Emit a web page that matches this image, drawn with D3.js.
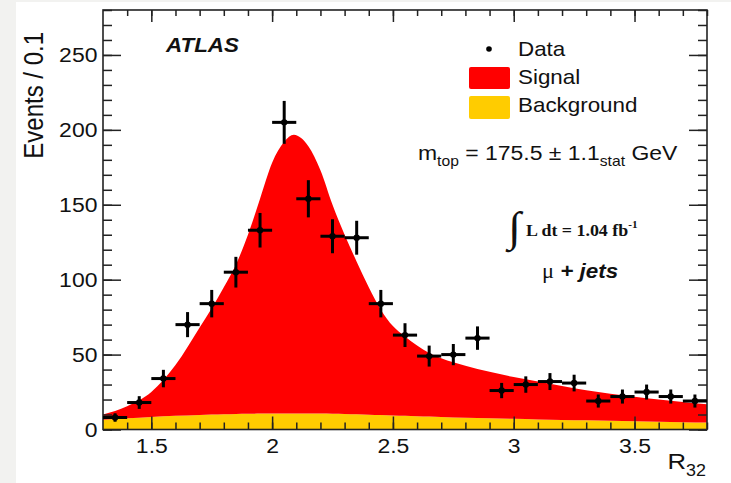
<!DOCTYPE html>
<html>
<head>
<meta charset="utf-8">
<script src="https://cdn.jsdelivr.net/npm/d3@7"></script>
<style>
  html, body { margin: 0; padding: 0; background: #f2f2f0; }
  svg { display: block; }
</style>
</head>
<body>
<svg id="chart" width="731" height="483"></svg>
<script>
// Measured R32 distribution: bin centres (width 0.1) and event counts
const binCenters = [1.35, 1.45, 1.55, 1.65, 1.75, 1.85, 1.95, 2.05, 2.15, 2.25,
                    2.35, 2.45, 2.55, 2.65, 2.75, 2.85, 2.95, 3.05, 3.15, 3.25,
                    3.35, 3.45, 3.55, 3.65, 3.75];
const dataCounts = [8, 18, 34, 70, 84, 105, 133, 205, 154, 129,
                    128, 84, 63, 49, 50, 61, 26, 30, 32, 31,
                    19, 22, 25, 22, 19];

// Fitted template curves, sampled along R32
const fitR = [1.30, 1.40, 1.50, 1.60, 1.70, 1.75, 1.80, 1.85, 1.90, 1.95,
              2.00, 2.05, 2.09, 2.12, 2.15, 2.20, 2.25, 2.30, 2.35, 2.40,
              2.45, 2.50, 2.55, 2.60, 2.65, 2.70, 2.80, 2.90, 3.00, 3.10,
              3.20, 3.30, 3.40, 3.50, 3.60, 3.70, 3.80];
const backgroundFit = [6.5, 7.5, 8.4, 9.1, 9.7, 10.0, 10.2, 10.4, 10.5, 10.6,
                       10.7, 10.7, 10.7, 10.7, 10.65, 10.6, 10.45, 10.3, 10.1, 9.9,
                       9.65, 9.4, 9.15, 8.9, 8.65, 8.4, 7.9, 7.5, 7.1, 6.75,
                       6.4, 6.1, 5.8, 5.5, 5.2, 4.9, 4.6];
const signalFit = [3.5, 8.0, 16.6, 33.9, 58.3, 71.0, 84.8, 99.6, 119.5, 143.4,
                   167.3, 181.3, 186.0, 183.8, 178.35, 162.4, 139.55, 119.7, 101.9, 85.1,
                   70.35, 59.6, 52.85, 47.1, 42.35, 39.1, 34.6, 31.0, 27.9, 25.25,
                   22.6, 20.1, 18.0, 16.3, 14.8, 13.4, 12.2];

// Axis ticks
const xMajorTicks = [1.5, 2, 2.5, 3, 3.5];
const yMajorTicks = [0, 50, 100, 150, 200, 250];
const xDomain = [1.3, 3.8];
const yDomain = [0, 280];

const SX = 1.12; // horizontal text stretch
const SANS = "'Liberation Sans', Arial, Helvetica, sans-serif";
const SERIF = "'Liberation Serif', 'Times New Roman', serif";

const svg = d3.select("#chart");
svg.append("rect").attr("x", 16).attr("y", 2).attr("width", 715).attr("height", 481).attr("fill", "#ffffff");

const frame = {left: 103, right: 707, top: 10, bottom: 429.5};
const x = d3.scaleLinear().domain(xDomain).range([frame.left, frame.right]);
const y = d3.scaleLinear().domain(yDomain).range([frame.bottom, frame.top]);

svg.append("defs").append("clipPath").attr("id", "plotClip")
  .append("rect").attr("x", frame.left).attr("y", frame.top)
  .attr("width", frame.right - frame.left).attr("height", frame.bottom - frame.top);

// Stacked fit: background at the bottom, signal on top
const fitRows = fitR.map((r, i) => ({r, bg: backgroundFit[i], sig: signalFit[i]}));
const stacked = d3.stack().keys(["bg", "sig"])(fitRows);
const area = d3.area()
  .x((d, i) => x(fitR[i]))
  .y0(d => y(d[0]))
  .y1(d => y(d[1]))
  .curve(d3.curveMonotoneX);

const fills = {bg: "#ffcc00", sig: "#ff0000"};
const plot = svg.append("g").attr("clip-path", "url(#plotClip)");
plot.selectAll("path.fit").data(stacked).join("path")
  .attr("class", "fit")
  .attr("fill", d => fills[d.key])
  .attr("d", area);

// Axes with inward ticks on all four sides
const axisColor = "#222";
function styleAxis(g) {
  g.select(".domain").remove();
  g.selectAll("line").attr("stroke", axisColor).attr("stroke-width", 1.5);
}
const xMinor = d3.range(14, 39).map(v => v / 10);
const yMinor = d3.range(0, 281, 10);

// bottom
svg.append("g").attr("transform", `translate(0,${frame.bottom})`)
  .call(d3.axisBottom(x).tickValues(xMinor).tickSize(-7).tickFormat(""))
  .call(styleAxis);
const xAx = svg.append("g").attr("transform", `translate(0,${frame.bottom})`)
  .call(d3.axisBottom(x).tickValues(xMajorTicks).tickSize(-13).tickPadding(9).tickFormat(d3.format("")))
  .call(styleAxis);
xAx.selectAll("text").attr("font-family", SANS).attr("font-size", 20.5).attr("fill", "#111")
  .attr("transform", `scale(${SX},1)`);
// top
svg.append("g").attr("transform", `translate(0,${frame.top})`)
  .call(d3.axisTop(x).tickValues(xMinor).tickSize(-6).tickFormat(""))
  .call(styleAxis);
svg.append("g").attr("transform", `translate(0,${frame.top})`)
  .call(d3.axisTop(x).tickValues(xMajorTicks).tickSize(-12).tickFormat(""))
  .call(styleAxis);
// left
svg.append("g").attr("transform", `translate(${frame.left},0)`)
  .call(d3.axisLeft(y).tickValues(yMinor).tickSize(-9).tickFormat(""))
  .call(styleAxis);
const yAx = svg.append("g").attr("transform", `translate(${frame.left},0)`)
  .call(d3.axisLeft(y).tickValues(yMajorTicks).tickSize(-18).tickPadding(5).tickFormat(d3.format("")))
  .call(styleAxis);
yAx.selectAll("text").attr("font-family", SANS).attr("font-size", 20.5).attr("fill", "#111")
  .attr("transform", `scale(${SX},1)`);
// right
svg.append("g").attr("transform", `translate(${frame.right},0)`)
  .call(d3.axisRight(y).tickValues(yMinor).tickSize(-9).tickFormat(""))
  .call(styleAxis);
svg.append("g").attr("transform", `translate(${frame.right},0)`)
  .call(d3.axisRight(y).tickValues(yMajorTicks).tickSize(-18).tickFormat(""))
  .call(styleAxis);

svg.append("rect")
  .attr("x", frame.left).attr("y", frame.top)
  .attr("width", frame.right - frame.left).attr("height", frame.bottom - frame.top)
  .attr("fill", "none").attr("stroke", axisColor).attr("stroke-width", 1.6);

// Data points with Poisson error bars
const pts = svg.append("g");
binCenters.forEach((c, i) => {
  const n = dataCounts[i], e = Math.sqrt(n);
  pts.append("line").attr("x1", x(c)).attr("x2", x(c))
    .attr("y1", y(n - e)).attr("y2", y(n + e))
    .attr("stroke", "#000").attr("stroke-width", 3);
  pts.append("line").attr("x1", x(c - 0.05)).attr("x2", x(c + 0.05))
    .attr("y1", y(n)).attr("y2", y(n))
    .attr("stroke", "#000").attr("stroke-width", 3);
  pts.append("circle").attr("cx", x(c)).attr("cy", y(n)).attr("r", 3.2).attr("fill", "#000");
});

// Text helper: a stretched group anchored at (tx, ty)
function textAt(tx, ty, extra) {
  const g = svg.append("g").attr("transform", `translate(${tx},${ty}) scale(${SX},1)` + (extra || ""));
  return g.append("text").attr("x", 0).attr("y", 0).attr("fill", "#111");
}

// Axis titles
textAt(43, 32, " rotate(-90)")
  .attr("font-family", SANS).attr("font-size", 24).attr("text-anchor", "end")
  .text("Events / 0.1");

const rt = textAt(706, 469).attr("font-family", SANS).attr("font-size", 23).attr("text-anchor", "end");
rt.append("tspan").text("R");
rt.append("tspan").attr("font-size", 16).attr("dy", 7).text("32");

// Experiment label
textAt(166, 52).attr("font-family", SANS).attr("font-size", 20)
  .attr("font-weight", "bold").attr("font-style", "italic").text("ATLAS");

// Legend
svg.append("circle").attr("cx", 489).attr("cy", 49).attr("r", 2.8).attr("fill", "#000");
textAt(518, 56).attr("font-family", SANS).attr("font-size", 20).text("Data");
svg.append("rect").attr("x", 469).attr("y", 67).attr("width", 41).attr("height", 22)
  .attr("rx", 2).attr("fill", fills.sig);
textAt(518, 84).attr("font-family", SANS).attr("font-size", 20).text("Signal");
svg.append("rect").attr("x", 469).attr("y", 96).attr("width", 41).attr("height", 23)
  .attr("rx", 2).attr("fill", fills.bg);
textAt(518, 112).attr("font-family", SANS).attr("font-size", 20).text("Background");

// Fit result
const mt = textAt(418, 160).attr("font-family", SANS).attr("font-size", 20.5);
mt.append("tspan").text("m");
mt.append("tspan").attr("font-size", 14).attr("dy", 6).text("top");
mt.append("tspan").attr("dy", -6).text(" = 175.5 \u00b1 1.1");
mt.append("tspan").attr("font-size", 14).attr("dy", 6).text("stat");
mt.append("tspan").attr("dy", -6).text(" GeV");

// Integrated luminosity
textAt(508, 241).attr("font-family", SERIF).attr("font-size", 42).text("\u222b");
const lum = textAt(526, 236).attr("font-family", SERIF).attr("font-size", 16).attr("font-weight", "bold");
lum.append("tspan").text("L dt = 1.04 fb");
lum.append("tspan").attr("font-size", 10).attr("dy", -8).text("-1");

// Channel
const ch = textAt(542, 278).attr("font-size", 20);
ch.append("tspan").attr("font-family", SERIF).text("\u03bc");
ch.append("tspan").attr("font-family", SANS).attr("font-weight", "bold").attr("font-style", "italic").text(" + jets");
</script>
</body>
</html>
